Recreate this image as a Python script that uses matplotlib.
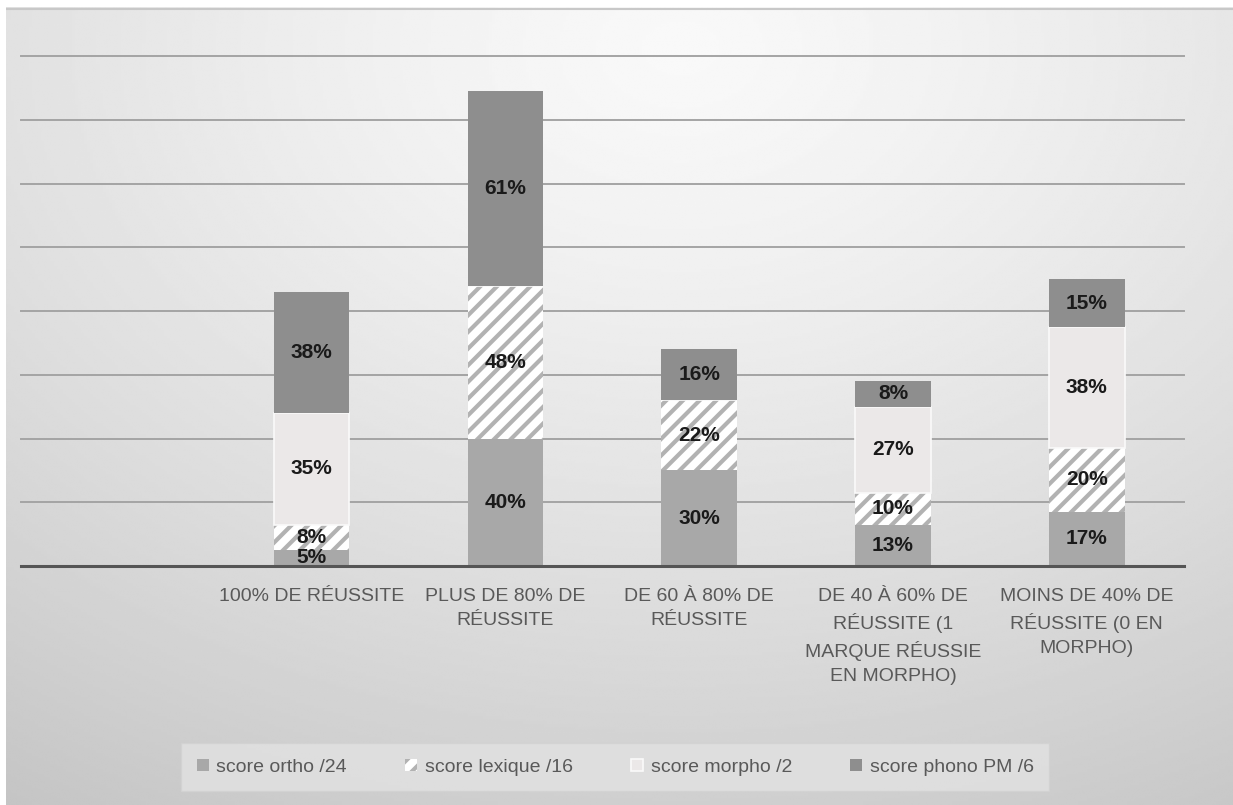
import numpy as np
import matplotlib
matplotlib.use('Agg')
import matplotlib.pyplot as plt

# Data (first slot is an empty category).
categories = ['', '100% DE RÉUSSITE', 'PLUS DE 80% DE\nRÉUSSITE',
              'DE 60 À 80% DE\nRÉUSSITE',
              'DE 40 À 60% DE\nRÉUSSITE (1\nMARQUE RÉUSSIE\nEN MORPHO)',
              'MOINS DE 40% DE\nRÉUSSITE (0 EN\nMORPHO)']
ortho = [0, 5, 40, 30, 13, 17]
lexique = [0, 8, 48, 22, 10, 20]
morpho = [0, 35, 0, 0, 27, 38]
phono = [0, 38, 61, 16, 8, 15]
series_names = ['score ortho /24', 'score lexique /16', 'score morpho /2', 'score phono PM /6']

plt.rcParams['font.family'] = ['Liberation Sans Narrow', 'Liberation Sans', 'DejaVu Sans']
plt.rcParams['hatch.linewidth'] = 3.0

fig = plt.figure(figsize=(12.33, 8.05), dpi=100)

# Gray gradient background of the chart area.
bg = fig.add_axes([0.005, 0, 0.995, 0.991])
gx, gy = np.meshgrid(np.linspace(0, 1, 400), np.linspace(0, 1, 300))
dist = np.sqrt((gx - 0.55) ** 2 + ((gy - 0.05) * 0.9) ** 2)
shade = 0.975 - 0.2 * np.clip(dist, 0, 1.1) ** 1.3
bg.imshow(shade, cmap='gray', vmin=0, vmax=1, aspect='auto',
          extent=(0, 1, 1, 0), interpolation='bilinear')
bg.set_xlim(0, 1)
bg.set_ylim(1, 0)
bg.axis('off')
bg.plot([0, 1], [0.002, 0.002], color='#c8c8c8', lw=1.5)

ax = fig.add_axes([0.017, 0.297, 0.943, 0.633])
ax.set_facecolor('none')
x = np.arange(len(categories))
w = 0.39

bottom = np.zeros(len(categories))
b1 = ax.bar(x, ortho, w, bottom=bottom, color='#a8a8a8', edgecolor='none', label=series_names[0])
bottom += ortho
b2 = ax.bar(x, lexique, w, bottom=bottom, color='white', edgecolor='#b2b2b2', linewidth=0,
            hatch='//', label=series_names[1])
bottom += lexique
b3 = ax.bar(x, morpho, w, bottom=bottom, color='#ebe8e8', edgecolor='#fafafa', linewidth=1.2,
            label=series_names[2])
bottom += morpho
b4 = ax.bar(x, phono, w, bottom=bottom, color='#8e8e8e', edgecolor='none', label=series_names[3])

for cont, vals in zip([b1, b2, b3, b4], [ortho, lexique, morpho, phono]):
    ax.bar_label(cont, labels=[f'{v}%' if v else '' for v in vals], label_type='center',
                 fontsize=15, fontweight='bold', color='#1a1a1a')

ax.set_xlim(-0.5, 5.5)
ax.set_ylim(0, 160)
ax.set_yticks(np.arange(0, 161, 20))
ax.set_yticklabels([])
ax.yaxis.grid(True, color='#a4a4a4', linewidth=1.4)
for gl in ax.get_ygridlines():
    gl.set_clip_on(False)
ax.set_axisbelow(True)
ax.tick_params(axis='both', length=0)
ax.tick_params(axis='x', pad=16, labelsize=14, labelcolor='#595959')
ax.set_xticks(x)
ax.set_xticklabels(categories, linespacing=1.5, va='top')
for s in ('top', 'left', 'right'):
    ax.spines[s].set_visible(False)
ax.spines['bottom'].set_color('#555555')
ax.spines['bottom'].set_linewidth(2.2)

leg = fig.legend(handles=[b1, b2, b3, b4], loc='center', bbox_to_anchor=(0.499, 0.047),
                 ncol=4, frameon=True, fontsize=14, handlelength=0.6, handleheight=0.6,
                 handletextpad=0.4, columnspacing=3.0, borderpad=0.8, fancybox=False)
leg.get_frame().set_facecolor('#e2e2e2')
leg.get_frame().set_edgecolor('#d2d2d2')
for t in leg.get_texts():
    t.set_color('#595959')

fig.savefig('out.png', dpi=100)
